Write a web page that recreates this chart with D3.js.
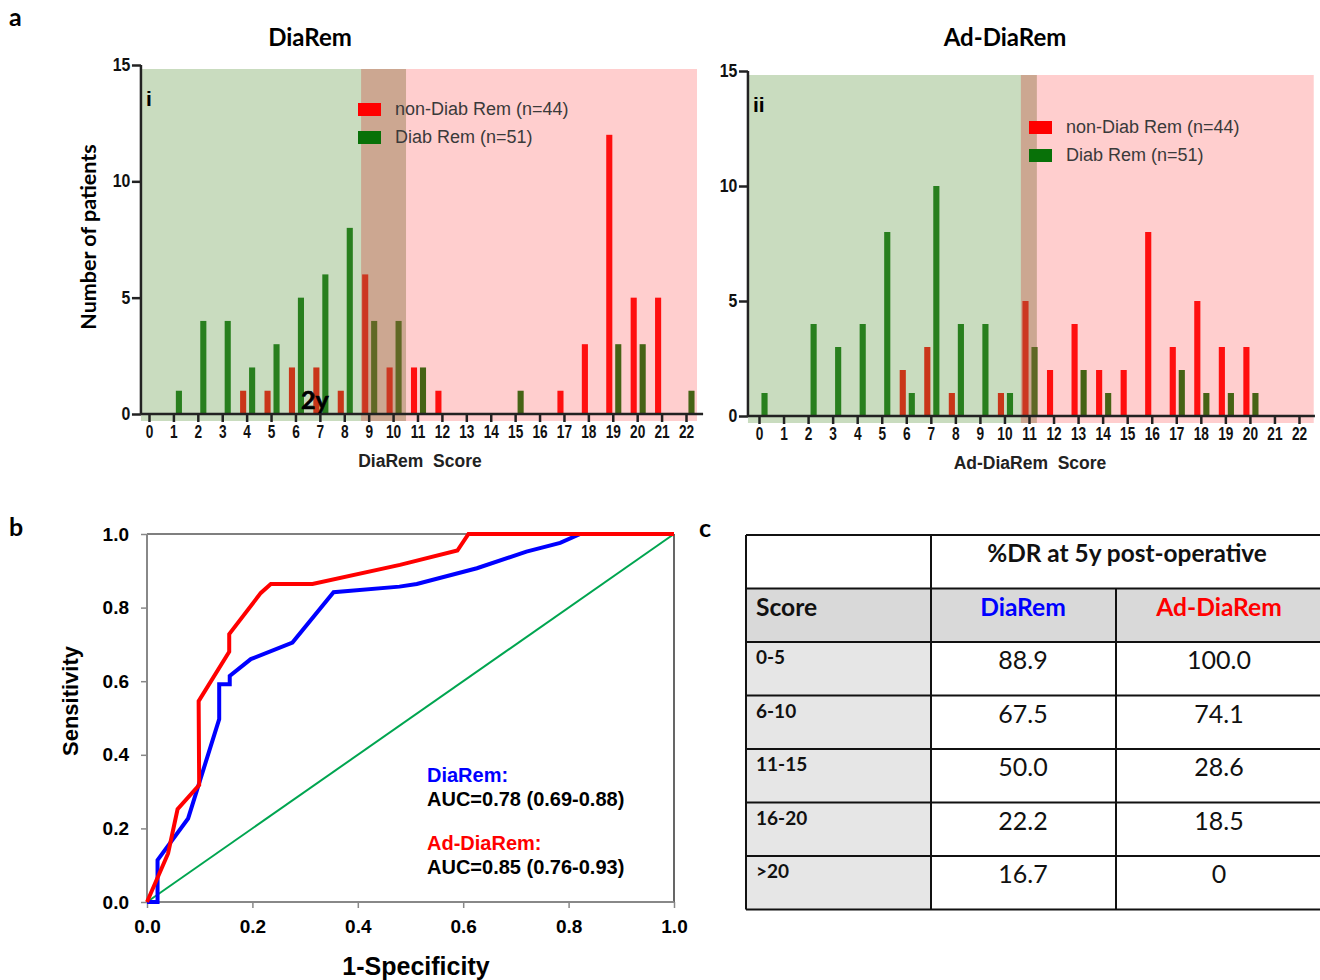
<!DOCTYPE html>
<html>
<head>
<meta charset="utf-8">
<script src="https://cdn.jsdelivr.net/npm/d3@7"></script>
<style>
  body { margin: 0; background: #fff; }
  svg { display: block; }
  text { white-space: pre; }
</style>
</head>
<body>
<svg id="chart" width="1320" height="980"></svg>
<script>
// ---------------- DATA ----------------
const scores = d3.range(0, 23); // 0..22
// Panel a-i : DiaRem score
const diaRemNonDiab = [0,0,0,0,1,1,2,2,1,6,2,2,1,0,0,0,0,1,3,12,5,5,0];
const diaRemDiab    = [0,1,4,4,2,3,5,6,8,4,4,2,0,0,0,1,0,0,0,3,3,0,1];
// Panel a-ii : Ad-DiaRem score
const adNonDiab     = [0,0,0,0,0,0,2,3,1,0,1,5,2,4,2,2,8,3,5,3,3,0,0];
const adDiab        = [1,0,4,3,4,8,1,10,4,4,1,3,0,2,1,0,0,2,1,1,1,0,0];
const yTicksA = [0, 5, 10, 15];
const legendLabels = ["non-Diab Rem (n=44)", "Diab Rem (n=51)"];
// zones (score units): remission-likely / overlap / non-remission
const zonesI  = {start: -0.33, overlapStart: 8.69, overlapEnd: 10.53, end: 22.45};
const zonesII = {start: -0.45, overlapStart: 10.67, overlapEnd: 11.32, end: 22.6};

// Panel b : ROC curves
const rocDiaRemFpr = [0, 0.02, 0.02, 0.078, 0.137, 0.137, 0.157, 0.157, 0.197, 0.276, 0.354, 0.479, 0.512, 0.626, 0.72, 0.784, 0.822, 1.0];
const rocDiaRemTpr = [0, 0, 0.114, 0.227, 0.497, 0.592, 0.592, 0.614, 0.66, 0.705, 0.842, 0.857, 0.864, 0.907, 0.952, 0.976, 1.0, 1.0];
const rocAdFpr = [0, 0.040, 0.058, 0.099, 0.098, 0.156, 0.156, 0.216, 0.235, 0.314, 0.48, 0.589, 0.61, 1.0];
const rocAdTpr = [0, 0.132, 0.252, 0.318, 0.546, 0.68, 0.728, 0.840, 0.864, 0.864, 0.916, 0.955, 1.0, 1.0];
const rocTicks = [0, 0.2, 0.4, 0.6, 0.8, 1.0];
const aucLines = [
  {label: "DiaRem:", color: "#0000ff"},
  {label: "AUC=0.78 (0.69-0.88)", color: "#000"},
  {label: "Ad-DiaRem:", color: "#ff0000"},
  {label: "AUC=0.85 (0.76-0.93)", color: "#000"}
];

// Panel c : table
const tableScores = ["0-5", "6-10", "11-15", "16-20", ">20"];
const drDiaRem    = [88.9, 67.5, 50.0, 22.2, 16.7];
const drAdDiaRem  = [100.0, 74.1, 28.6, 18.5, 0];

// ---------------- DRAWING ----------------
const svg = d3.select("#chart");
const ARIAL = "'Liberation Sans', Arial, sans-serif";
const CAL = "Lato, 'Open Sans', sans-serif";

const RED = "#ff0000", GREEN = "#087108";

function panelLetter(t, x, y) {
  svg.append("text").attr("x", x).attr("y", y).text(t)
    .attr("font-family", CAL).attr("font-weight", 700).attr("font-size", 25).attr("fill", "#000");
}
panelLetter("a", 9, 26);
panelLetter("b", 9, 536);
panelLetter("c", 699, 537);

function histPanel(cfg) {
  const x = d3.scaleLinear().domain([0, 22]).range(cfg.xr);
  const y = d3.scaleLinear().domain([0, 15]).range(cfg.yr);
  const step = x(1) - x(0);
  const g = svg.append("g");
  const z = cfg.zones;
  const top = y(15) + 4, bottom = y(0) + 7;

  // bars
  const bw = step * 0.25;
  g.selectAll(".rb").data(scores).join("rect")
    .attr("x", d => x(d) - step * 0.143 - bw / 2)
    .attr("y", d => y(cfg.red[d]))
    .attr("width", bw)
    .attr("height", d => y(0) - y(cfg.red[d]))
    .attr("fill", RED);
  g.selectAll(".gb").data(scores).join("rect")
    .attr("x", d => x(d) + step * 0.225 - bw / 2)
    .attr("y", d => y(cfg.green[d]))
    .attr("width", bw)
    .attr("height", d => y(0) - y(cfg.green[d]))
    .attr("fill", GREEN);

  // translucent zone overlays
  g.append("rect").attr("x", x(z.start)).attr("y", top)
    .attr("width", x(z.overlapEnd) - x(z.start)).attr("height", bottom - top)
    .attr("fill", "rgb(99,156,71)").attr("fill-opacity", 0.35);
  g.append("rect").attr("x", x(z.overlapStart)).attr("y", top)
    .attr("width", x(z.end) - x(z.overlapStart)).attr("height", bottom - top)
    .attr("fill", "rgb(255,60,60)").attr("fill-opacity", 0.25);
  g.append("rect").attr("x", x(z.overlapStart)).attr("y", top)
    .attr("width", x(z.overlapEnd) - x(z.overlapStart)).attr("height", bottom - top)
    .attr("fill", "rgb(120,60,40)").attr("fill-opacity", 0.1);

  // legend
  const lx = cfg.legend[0], ly = cfg.legend[1];
  [[RED, 0], [GREEN, 1]].forEach(([c, i]) => {
    g.append("rect").attr("x", lx).attr("y", ly + i * 28 - 6).attr("width", 23).attr("height", 13).attr("fill", c);
    g.append("text").attr("x", lx + 37).attr("y", ly + i * 28 + 6).text(legendLabels[i])
      .attr("font-family", ARIAL).attr("font-size", 18).attr("fill", "#3a3a3a");
  });

  // axes
  const ax = g.append("g").attr("transform", `translate(0,${y(0)})`)
    .call(d3.axisBottom(x).tickValues(scores).tickSize(8).tickPadding(3).tickFormat(d3.format("d")));
  ax.select(".domain").attr("d", `M${x(z.start)},0H${x(cfg.axisEnd)}`);
  const ay = g.append("g").attr("transform", `translate(${x(z.start)},0)`)
    .call(d3.axisLeft(y).tickValues(yTicksA).tickSize(9).tickPadding(3).tickFormat(d3.format("d")));
  ay.select(".domain").attr("d", `M0,${y(0)}V${y(15)}`);
  [ax, ay].forEach(a => {
    a.select(".domain").attr("stroke", "#222").attr("stroke-width", 2.5);
    a.selectAll(".tick line").attr("stroke", "#222").attr("stroke-width", 2.5);
    a.selectAll(".tick text").attr("font-family", ARIAL).attr("font-weight", 700)
      .attr("font-size", 18).attr("fill", "#111");
  });
  ax.selectAll(".tick text").attr("transform", "scale(0.76,1)");
  ay.selectAll(".tick text").attr("dy", "0.3em").attr("transform", "scale(0.88,1)");

  // roman numeral
  g.append("text").attr("x", x(z.start) + 5).attr("y", cfg.yr[1] + 41).text(cfg.roman)
    .attr("font-family", ARIAL).attr("font-weight", 700).attr("font-size", 21).attr("fill", "#000");
  // title
  g.append("text").attr("x", cfg.titleX).attr("y", 46).attr("text-anchor", "middle").text(cfg.title)
    .attr("font-family", CAL).attr("font-weight", 700).attr("font-size", 24).attr("fill", "#000");
  // x label
  g.append("text").attr("x", cfg.xlabX).attr("y", y(0) + 53).attr("text-anchor", "middle").text(cfg.xlab)
    .attr("font-family", ARIAL).attr("font-weight", 700).attr("font-size", 17.5).attr("fill", "#222");
  return {x, y};
}

histPanel({
  xr: [149, 686], yr: [414, 65], red: diaRemNonDiab, green: diaRemDiab, zones: zonesI,
  axisEnd: 22.7, legend: [358, 109], roman: "i", title: "DiaRem", titleX: 310,
  xlab: "DiaRem  Score", xlabX: 420
});
histPanel({
  xr: [759, 1299], yr: [416, 71], red: adNonDiab, green: adDiab, zones: zonesII,
  axisEnd: 22.65, legend: [1029, 127], roman: "ii", title: "Ad-DiaRem", titleX: 1005,
  xlab: "Ad-DiaRem  Score", xlabX: 1030
});

// y label panel a
svg.append("text").attr("transform", "translate(96,237) rotate(-90)").attr("text-anchor", "middle")
  .text("Number of patients").attr("font-family", CAL).attr("font-weight", 700).attr("font-size", 21.5).attr("fill", "#000");
// "2y" annotation
svg.append("text").attr("x", 301).attr("y", 409).text("2y")
  .attr("font-family", CAL).attr("font-weight", 700).attr("font-size", 25)
  .attr("fill", "#000").attr("stroke", "#000").attr("stroke-width", 0.6);

// ---------------- ROC ----------------
const rx = d3.scaleLinear().domain([0, 1]).range([147, 674]);
const ry = d3.scaleLinear().domain([0, 1]).range([902, 534]);
const rg = svg.append("g");
rg.append("line").attr("x1", rx(0)).attr("x2", rx(1)).attr("y1", ry(1)).attr("y2", ry(1)).attr("stroke", "#000").attr("stroke-width", 1.2);
rg.append("line").attr("x1", rx(1)).attr("x2", rx(1)).attr("y1", ry(0)).attr("y2", ry(1)).attr("stroke", "#000").attr("stroke-width", 1.2);

const rax = rg.append("g").attr("transform", `translate(0,${ry(0)})`)
  .call(d3.axisBottom(rx).tickValues(rocTicks).tickSize(6).tickPadding(12).tickFormat(d3.format(".1f")));
const ray = rg.append("g").attr("transform", `translate(${rx(0)},0)`)
  .call(d3.axisLeft(ry).tickValues(rocTicks).tickSize(6).tickPadding(12).tickFormat(d3.format(".1f")));
[rax, ray].forEach(a => {
  a.select(".domain").attr("stroke", "#888").attr("stroke-width", 2);
  a.selectAll(".tick line").attr("stroke", "#888").attr("stroke-width", 1.5);
  a.selectAll(".tick text").attr("font-family", ARIAL).attr("font-weight", 700).attr("font-size", 19).attr("fill", "#000");
});
ray.select(".domain").attr("d", `M0,${ry(0)}V${ry(1)}`);
rax.select(".domain").attr("d", `M${rx(0)},0H${rx(1)}`);

const line = d3.line().x(d => rx(d[0])).y(d => ry(d[1]));
rg.append("path").attr("d", line([[0, 0], [1, 1]])).attr("fill", "none").attr("stroke", "#00a550").attr("stroke-width", 2);
rg.append("path").attr("d", line(rocDiaRemFpr.map((f, i) => [f, rocDiaRemTpr[i]])))
  .attr("fill", "none").attr("stroke", "#0000ff").attr("stroke-width", 4).attr("stroke-linejoin", "miter");
rg.append("path").attr("d", line(rocAdFpr.map((f, i) => [f, rocAdTpr[i]])))
  .attr("fill", "none").attr("stroke", "#ff0000").attr("stroke-width", 4).attr("stroke-linejoin", "miter");

const aucY = [782, 806, 850, 874];
aucLines.forEach((d, i) => {
  rg.append("text").attr("x", 427).attr("y", aucY[i]).text(d.label)
    .attr("font-family", ARIAL).attr("font-weight", 700).attr("font-size", 20).attr("fill", d.color);
});
rg.append("text").attr("transform", "translate(78,701) rotate(-90)").attr("text-anchor", "middle").text("Sensitivity")
  .attr("font-family", ARIAL).attr("font-weight", 700).attr("font-size", 22).attr("fill", "#000");
rg.append("text").attr("x", 416).attr("y", 975).attr("text-anchor", "middle").text("1-Specificity")
  .attr("font-family", ARIAL).attr("font-weight", 700).attr("font-size", 25).attr("fill", "#000");

// ---------------- TABLE ----------------
const tg = svg.append("g");
const colX = [746, 931, 1116, 1330];
const rowY = [535, 588.5, 642, 695.5, 749, 802.5, 856, 909.5];
tg.append("rect").attr("x", colX[0]).attr("y", rowY[1]).attr("width", colX[3] - colX[0]).attr("height", rowY[2] - rowY[1]).attr("fill", "#d9d9d9");
tg.append("rect").attr("x", colX[0]).attr("y", rowY[2]).attr("width", colX[1] - colX[0]).attr("height", rowY[7] - rowY[2]).attr("fill", "#e6e6e6");
rowY.forEach(yv => tg.append("line").attr("x1", colX[0]).attr("x2", colX[3]).attr("y1", yv).attr("y2", yv).attr("stroke", "#111").attr("stroke-width", 2));
tg.append("line").attr("x1", colX[0]).attr("x2", colX[0]).attr("y1", rowY[0]).attr("y2", rowY[7]).attr("stroke", "#111").attr("stroke-width", 2);
tg.append("line").attr("x1", colX[1]).attr("x2", colX[1]).attr("y1", rowY[0]).attr("y2", rowY[7]).attr("stroke", "#111").attr("stroke-width", 2);
tg.append("line").attr("x1", colX[2]).attr("x2", colX[2]).attr("y1", rowY[1]).attr("y2", rowY[7]).attr("stroke", "#111").attr("stroke-width", 2);

tg.append("text").attr("x", 1127).attr("y", 562).attr("text-anchor", "middle").text("%DR at 5y post-operative")
  .attr("font-family", CAL).attr("font-weight", 700).attr("font-size", 24.4).attr("fill", "#111");
tg.append("text").attr("x", 756).attr("y", 616).text("Score")
  .attr("font-family", CAL).attr("font-weight", 700).attr("font-size", 24.6).attr("fill", "#111");
tg.append("text").attr("x", 1023).attr("y", 616).attr("text-anchor", "middle").text("DiaRem")
  .attr("font-family", CAL).attr("font-weight", 700).attr("font-size", 24.6).attr("fill", "#0000ff");
tg.append("text").attr("x", 1219).attr("y", 616).attr("text-anchor", "middle").text("Ad-DiaRem")
  .attr("font-family", CAL).attr("font-weight", 700).attr("font-size", 24.6).attr("fill", "#ff0000");
const fmt = v => v === 0 ? "0" : v.toFixed(1);
tableScores.forEach((s, i) => {
  const t = rowY[i + 2];
  tg.append("text").attr("x", 756).attr("y", t + 22).text(s)
    .attr("font-family", CAL).attr("font-weight", 700).attr("font-size", 19).attr("fill", "#111");
  tg.append("text").attr("x", 1023).attr("y", t + 27).attr("text-anchor", "middle").text(fmt(drDiaRem[i]))
    .attr("font-family", CAL).attr("font-size", 25).attr("fill", "#111");
  tg.append("text").attr("x", 1219).attr("y", t + 27).attr("text-anchor", "middle").text(fmt(drAdDiaRem[i]))
    .attr("font-family", CAL).attr("font-size", 25).attr("fill", "#111");
});
</script>
</body>
</html>
